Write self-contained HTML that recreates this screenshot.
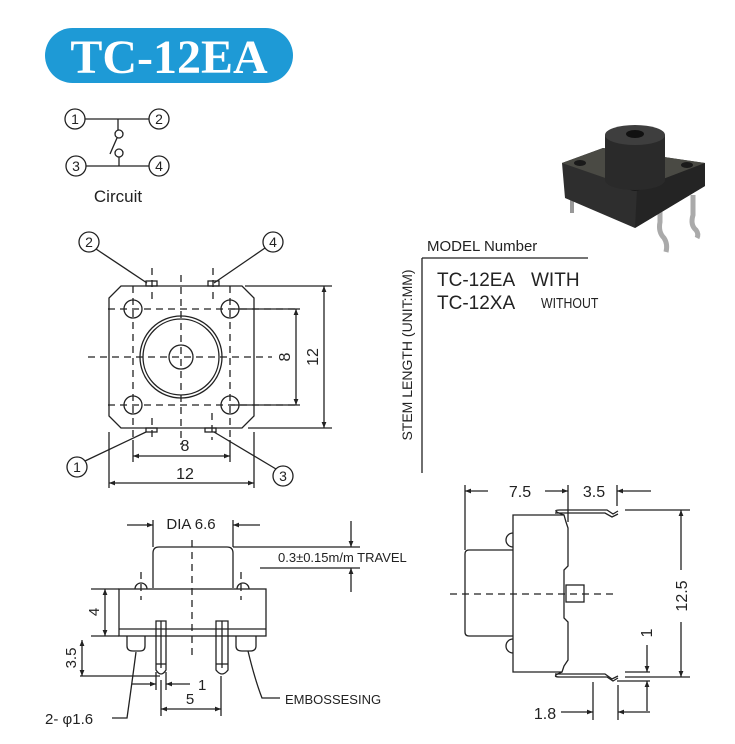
<!DOCTYPE html>
<html><head><meta charset="utf-8"><style>
html,body{margin:0;padding:0;background:#fff;}
svg{display:block;font-family:"Liberation Sans",sans-serif;}
</style></head><body>
<svg width="735" height="744" viewBox="0 0 735 744" xmlns="http://www.w3.org/2000/svg">
<defs>
<marker id="a" viewBox="0 0 10 10" refX="10" refY="5" markerWidth="9" markerHeight="6" orient="auto-start-reverse" markerUnits="userSpaceOnUse"><path d="M0,1 L10,5 L0,9 z" fill="#222"/></marker>
</defs>
<rect x="45" y="28" width="248" height="55" rx="27.5" fill="#1e9ad6"/>
<text x="169" y="73" text-anchor="middle" font-family="Liberation Serif,serif" font-weight="bold" font-size="48" fill="#fff">TC-12EA</text>

<!-- circuit -->
<g fill="none" stroke="#222" stroke-width="1.3">
<circle cx="75" cy="119" r="10"/><circle cx="159" cy="119" r="10"/>
<circle cx="76" cy="166" r="10"/><circle cx="159" cy="166" r="10"/>
<line x1="85" y1="119" x2="149" y2="119"/><line x1="86" y1="166" x2="149" y2="166"/>
<line x1="118" y1="119" x2="118" y2="130"/><circle cx="119" cy="134" r="4"/>
<line x1="110" y1="154" x2="117" y2="138"/>
<circle cx="119" cy="153" r="4"/><line x1="119" y1="157" x2="119" y2="166"/>
</g>
<g font-size="14" text-anchor="middle" fill="#222">
<text x="75" y="124">1</text><text x="159" y="124">2</text><text x="76" y="171">3</text><text x="159" y="171">4</text>
</g>
<text x="118" y="202" font-size="17" text-anchor="middle" fill="#222">Circuit</text>

<!-- top view -->
<g fill="none" stroke="#222" stroke-width="1.3">
<path d="M121,286 H242 L254,298 V416 L242,428 H121 L109,416 V298 Z"/>
<circle cx="133" cy="309" r="9"/><circle cx="230" cy="309" r="9"/>
<circle cx="133" cy="405" r="9"/><circle cx="230" cy="405" r="9"/>
<circle cx="181" cy="357" r="41"/><circle cx="181" cy="357" r="38"/>
<circle cx="181" cy="357" r="12"/>
<rect x="146" y="281" width="11" height="5"/><rect x="208" y="281" width="11" height="5"/>
<rect x="146" y="428" width="11" height="4"/><rect x="205" y="428" width="11" height="4"/>
<g stroke-dasharray="7,5">
<line x1="108" y1="309" x2="300" y2="309"/><line x1="108" y1="405" x2="300" y2="405"/>
<line x1="88" y1="357" x2="272" y2="357"/>
<line x1="133" y1="286" x2="133" y2="440"/><line x1="230" y1="286" x2="230" y2="440"/>
<line x1="181" y1="275" x2="181" y2="445"/>
<line x1="152" y1="268" x2="152" y2="300"/><line x1="213" y1="268" x2="213" y2="300"/>
<line x1="152" y1="418" x2="152" y2="440"/><line x1="212" y1="413" x2="212" y2="440"/>
</g>
<line x1="230" y1="309" x2="300" y2="309"/><line x1="230" y1="405" x2="300" y2="405"/>
<line x1="245" y1="286" x2="332" y2="286"/><line x1="248" y1="428" x2="332" y2="428"/>
<line x1="296" y1="309" x2="296" y2="405" marker-start="url(#a)" marker-end="url(#a)"/>
<line x1="324" y1="286" x2="324" y2="428" marker-start="url(#a)" marker-end="url(#a)"/>
<line x1="133" y1="440" x2="133" y2="462"/><line x1="230" y1="440" x2="230" y2="462"/>
<line x1="109" y1="432" x2="109" y2="488"/><line x1="254" y1="432" x2="254" y2="488"/>
<line x1="133" y1="456" x2="230" y2="456" marker-start="url(#a)" marker-end="url(#a)"/>
<line x1="109" y1="483" x2="254" y2="483" marker-start="url(#a)" marker-end="url(#a)"/>
<circle cx="89" cy="242" r="10"/><line x1="96" y1="249" x2="147" y2="283"/>
<circle cx="273" cy="242" r="10"/><line x1="265" y1="248" x2="214" y2="283"/>
<circle cx="77" cy="467" r="10"/><line x1="85" y1="461" x2="146" y2="432"/>
<circle cx="283" cy="476" r="10"/><line x1="276" y1="469" x2="214" y2="432"/>
</g>
<g font-size="14" text-anchor="middle" fill="#222">
<text x="89" y="247">2</text><text x="273" y="247">4</text><text x="77" y="472">1</text><text x="283" y="481">3</text>
<text x="185" y="451" font-size="16">8</text><text x="185" y="479" font-size="16">12</text>
<text transform="translate(290,357) rotate(-90)" font-size="16">8</text>
<text transform="translate(318,357) rotate(-90)" font-size="16">12</text>
</g>

<!-- model number -->
<g fill="none" stroke="#222" stroke-width="1.3">
<line x1="422" y1="258" x2="588" y2="258"/><line x1="422" y1="258" x2="422" y2="473"/>
</g>
<g fill="#222">
<text x="427" y="251" font-size="15">MODEL Number</text>
<text transform="translate(412,355) rotate(-90)" font-size="14" text-anchor="middle">STEM LENGTH (UNIT:MM)</text>
<text x="437" y="286" font-size="19">TC-12EA</text><text x="531" y="286" font-size="19">WITH</text>
<text x="437" y="309" font-size="19">TC-12XA</text>
<text x="541" y="308" font-size="15" transform="translate(541,0) scale(0.82,1) translate(-541,0)">WITHOUT</text>
</g>

<!-- photo -->
<g>
<path d="M572,200 V213" stroke="#999" stroke-width="4" fill="none"/>
<path d="M660,205 V222 Q658,232 664,238 Q668,244 666,252" stroke="#aaa" stroke-width="5" fill="none"/>
<path d="M693,195 V215 Q690,225 696,230 Q699,234 697,238" stroke="#aaa" stroke-width="5" fill="none"/>
<path d="M562,163 L603,148 L705,163 L705,186 L635,228 L565,198 Z" fill="#2e2e2e"/>
<path d="M562,163 L603,148 L705,163 L637,189 Z" fill="#4a4a44"/>
<path d="M637,189 L705,163 L705,186 L635,228 Z" fill="#242424"/>
<ellipse cx="580" cy="163" rx="6" ry="3" fill="#1a1a1a"/><ellipse cx="687" cy="165" rx="6" ry="3" fill="#1a1a1a"/>
<ellipse cx="635" cy="188" rx="6" ry="3" fill="#1a1a1a"/>
<path d="M605,135 V180 A30,10 0 0 0 665,180 V135 Z" fill="#2a2a2a"/>
<ellipse cx="635" cy="135" rx="30" ry="10" fill="#3e3e3e"/>
<ellipse cx="635" cy="134" rx="9" ry="4" fill="#111"/>
</g>

<!-- front side view -->
<g fill="none" stroke="#222" stroke-width="1.3">
<path d="M153,588 V553 Q153,547 159,547 H227 Q233,547 233,553 V588"/>
<path d="M135,589 A6,6 0 0 1 147,589"/><path d="M237,589 A6,6 0 0 1 249,589"/>
<rect x="119" y="589" width="147" height="47"/><line x1="119" y1="629" x2="266" y2="629"/>
<path d="M127,636 V646 Q127,651 133,651 H140 Q145,651 145,646 V636"/>
<path d="M236,636 V646 Q236,651 242,651 H250 Q256,651 256,646 V636"/>
<path d="M156,621 V670 Q161,678 166,670 V621 Z"/><line x1="161" y1="621" x2="161" y2="668"/>
<path d="M216,621 V670 Q222,678 228,670 V621 Z"/><line x1="222" y1="621" x2="222" y2="668"/>
<line x1="156" y1="664" x2="166" y2="664"/><line x1="216" y1="664" x2="228" y2="664"/>
<g stroke-dasharray="7,5"><line x1="192" y1="540" x2="192" y2="660"/>
<line x1="141" y1="572" x2="141" y2="600"/><line x1="241" y1="572" x2="241" y2="600"/></g>
<line x1="153" y1="520" x2="153" y2="547"/><line x1="233" y1="520" x2="233" y2="547"/>
<line x1="127" y1="525" x2="153" y2="525" marker-end="url(#a)"/><line x1="260" y1="525" x2="233" y2="525" marker-end="url(#a)"/>
<line x1="233" y1="547" x2="360" y2="547"/><line x1="260" y1="568" x2="360" y2="568"/>
<line x1="351" y1="521" x2="351" y2="547" marker-end="url(#a)"/><line x1="351" y1="592" x2="351" y2="568" marker-end="url(#a)"/>
<line x1="91" y1="589" x2="119" y2="589"/><line x1="91" y1="636" x2="119" y2="636"/>
<line x1="105" y1="589" x2="105" y2="636" marker-start="url(#a)" marker-end="url(#a)"/>
<line x1="80" y1="676" x2="160" y2="676"/>
<line x1="82" y1="640" x2="82" y2="676" marker-start="url(#a)" marker-end="url(#a)"/>
<line x1="156" y1="672" x2="156" y2="690"/><line x1="166" y1="672" x2="166" y2="690"/>
<line x1="132" y1="684" x2="156" y2="684" marker-end="url(#a)"/><line x1="190" y1="684" x2="166" y2="684" marker-end="url(#a)"/>
<line x1="161" y1="680" x2="161" y2="716"/><line x1="221" y1="676" x2="221" y2="716"/>
<line x1="161" y1="709" x2="221" y2="709" marker-start="url(#a)" marker-end="url(#a)"/>
<path d="M136,652 Q131,690 127,718 H112"/>
<path d="M248,651 Q255,680 262,698 H280"/>
</g>
<g fill="#222">
<text x="191" y="529" font-size="15" text-anchor="middle">DIA 6.6</text>
<text x="278" y="562" font-size="13">0.3±0.15m/m TRAVEL</text>
<text transform="translate(99,612) rotate(-90)" font-size="15" text-anchor="middle">4</text>
<text transform="translate(76,658) rotate(-90)" font-size="15" text-anchor="middle">3.5</text>
<text x="198" y="690" font-size="15">1</text>
<text x="190" y="704" font-size="15" text-anchor="middle">5</text>
<text x="45" y="724" font-size="15">2- φ1.6</text>
<text x="285" y="704" font-size="13">EMBOSSESING</text>
</g>

<!-- right side view -->
<g fill="none" stroke="#222" stroke-width="1.3">
<path d="M513,550 H469 Q465,550 465,554 V632 Q465,636 469,636 H513"/>
<path d="M513,533 A7,7 0 0 0 513,547"/><path d="M513,639 A7,7 0 0 0 513,653"/>
<path d="M513,515 H564 L566,522 L568,528 V566 L564,570 V618 L568,622 V660 L564,666 L562,672 H513 Z"/>
<rect x="566" y="585" width="18" height="17"/>
<path d="M564,515 Q550,510 560,510 H607 L613,514 L618,511"/>
<path d="M555,513 H605 L612,517 L618,514"/>
<path d="M562,672 Q550,677 560,677 H607 L613,681 L618,678"/>
<path d="M555,674 H605 L612,679 L618,676"/>
<line x1="450" y1="594" x2="615" y2="594" stroke-dasharray="7,5"/>
<line x1="465" y1="485" x2="465" y2="550"/><line x1="568" y1="485" x2="568" y2="522"/><line x1="617" y1="485" x2="617" y2="506"/>
<line x1="488" y1="491" x2="465" y2="491" marker-end="url(#a)"/><line x1="545" y1="491" x2="568" y2="491" marker-end="url(#a)"/>
<line x1="651" y1="491" x2="617" y2="491" marker-end="url(#a)"/>
<line x1="625" y1="510" x2="690" y2="510"/><line x1="625" y1="677" x2="690" y2="677"/>
<line x1="681" y1="570" x2="681" y2="510" marker-end="url(#a)"/><line x1="681" y1="622" x2="681" y2="677" marker-end="url(#a)"/>
<line x1="625" y1="672" x2="650" y2="672"/><line x1="617" y1="681" x2="650" y2="681"/>
<line x1="647" y1="645" x2="647" y2="672" marker-end="url(#a)"/><line x1="647" y1="711" x2="647" y2="681" marker-end="url(#a)"/>
<line x1="593" y1="682" x2="593" y2="720"/><line x1="618" y1="685" x2="618" y2="720"/>
<line x1="561" y1="712" x2="593" y2="712" marker-end="url(#a)"/><line x1="650" y1="712" x2="618" y2="712" marker-end="url(#a)"/>
</g>
<g fill="#222" font-size="16">
<text x="520" y="497" text-anchor="middle">7.5</text>
<text x="594" y="497" text-anchor="middle">3.5</text>
<text transform="translate(687,596) rotate(-90)" text-anchor="middle">12.5</text>
<text transform="translate(652,633) rotate(-90)" text-anchor="middle">1</text>
<text x="545" y="719" text-anchor="middle">1.8</text>
</g>
</svg>
</body></html>
